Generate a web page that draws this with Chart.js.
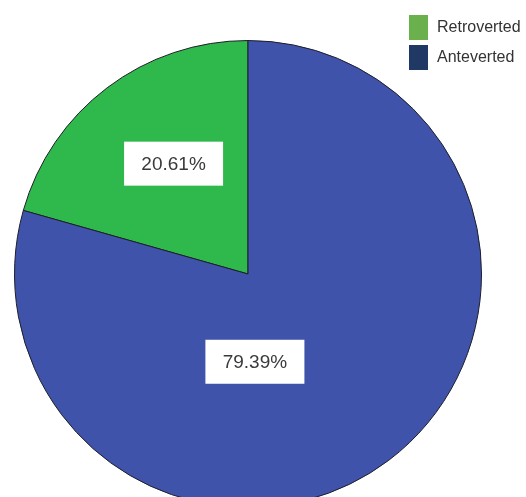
<!DOCTYPE html>
<html>
<head>
<meta charset="utf-8">
<script src="https://cdn.jsdelivr.net/npm/chart.js@4"></script>
<style>
  html, body { margin: 0; padding: 0; background: #fff; overflow: hidden; }
  #wrap { position: relative; width: 526px; height: 540px; }
</style>
</head>
<body>
<div id="wrap"><canvas id="pie"></canvas></div>
<script>
// categories and values
const categories = ['Retroverted', 'Anteverted'];
const percentages = [20.61, 79.39];
const sliceColors = ['#2fb84b', '#3f53ab'];
const legendColors = ['#6ab04c', '#1f3864'];

// where each percent box sits: angle (deg, canvas coords) and fraction of radius from centre
const labelSpots = [
    { angle: -124, dist: 0.57 },
    { angle: 85.5, dist: 0.377 }
];

// white boxes with the percentages
const percentBoxes = {
    id: 'percentBoxes',
    afterDatasetsDraw(chart) {
        const ctx = chart.ctx;
        const arcs = chart.getDatasetMeta(0).data;
        ctx.save();
        ctx.font = '19px "Liberation Sans", Arial, sans-serif';
        ctx.textAlign = 'center';
        ctx.textBaseline = 'middle';
        arcs.forEach((arc, i) => {
            const a = labelSpots[i].angle * Math.PI / 180;
            const cx = arc.x + Math.cos(a) * arc.outerRadius * labelSpots[i].dist;
            const cy = arc.y + Math.sin(a) * arc.outerRadius * labelSpots[i].dist;
            ctx.fillStyle = '#ffffff';
            ctx.fillRect(cx - 49.5, cy - 22, 99, 44);
            ctx.fillStyle = '#3a3a3a';
            ctx.fillText(percentages[i].toFixed(2) + '%', cx, cy + 1);
        });
        ctx.restore();
    }
};

// legend in the top right corner
const cornerLegend = {
    id: 'cornerLegend',
    afterDraw(chart) {
        const ctx = chart.ctx;
        ctx.save();
        ctx.font = '16px "Liberation Sans", Arial, sans-serif';
        ctx.textBaseline = 'middle';
        categories.forEach((name, i) => {
            const top = 15 + i * 30;
            ctx.fillStyle = legendColors[i];
            ctx.fillRect(409, top, 19, 25);
            ctx.fillStyle = '#333333';
            ctx.fillText(name, 437, top + 13);
        });
        ctx.restore();
    }
};

new Chart(document.getElementById('pie'), {
    type: 'pie',
    data: {
        labels: categories,
        datasets: [{
            data: percentages,
            backgroundColor: sliceColors,
            borderColor: '#1e1e2a',
            borderWidth: 1
        }]
    },
    options: {
        responsive: true,
        maintainAspectRatio: false,
        animation: false,
        rotation: -percentages[0] * 3.6,
        layout: { padding: { top: 40, left: 14, right: 44, bottom: 32 } },
        plugins: {
            legend: { display: false },
            tooltip: { enabled: false }
        }
    },
    plugins: [percentBoxes, cornerLegend]
});
</script>
</body>
</html>
